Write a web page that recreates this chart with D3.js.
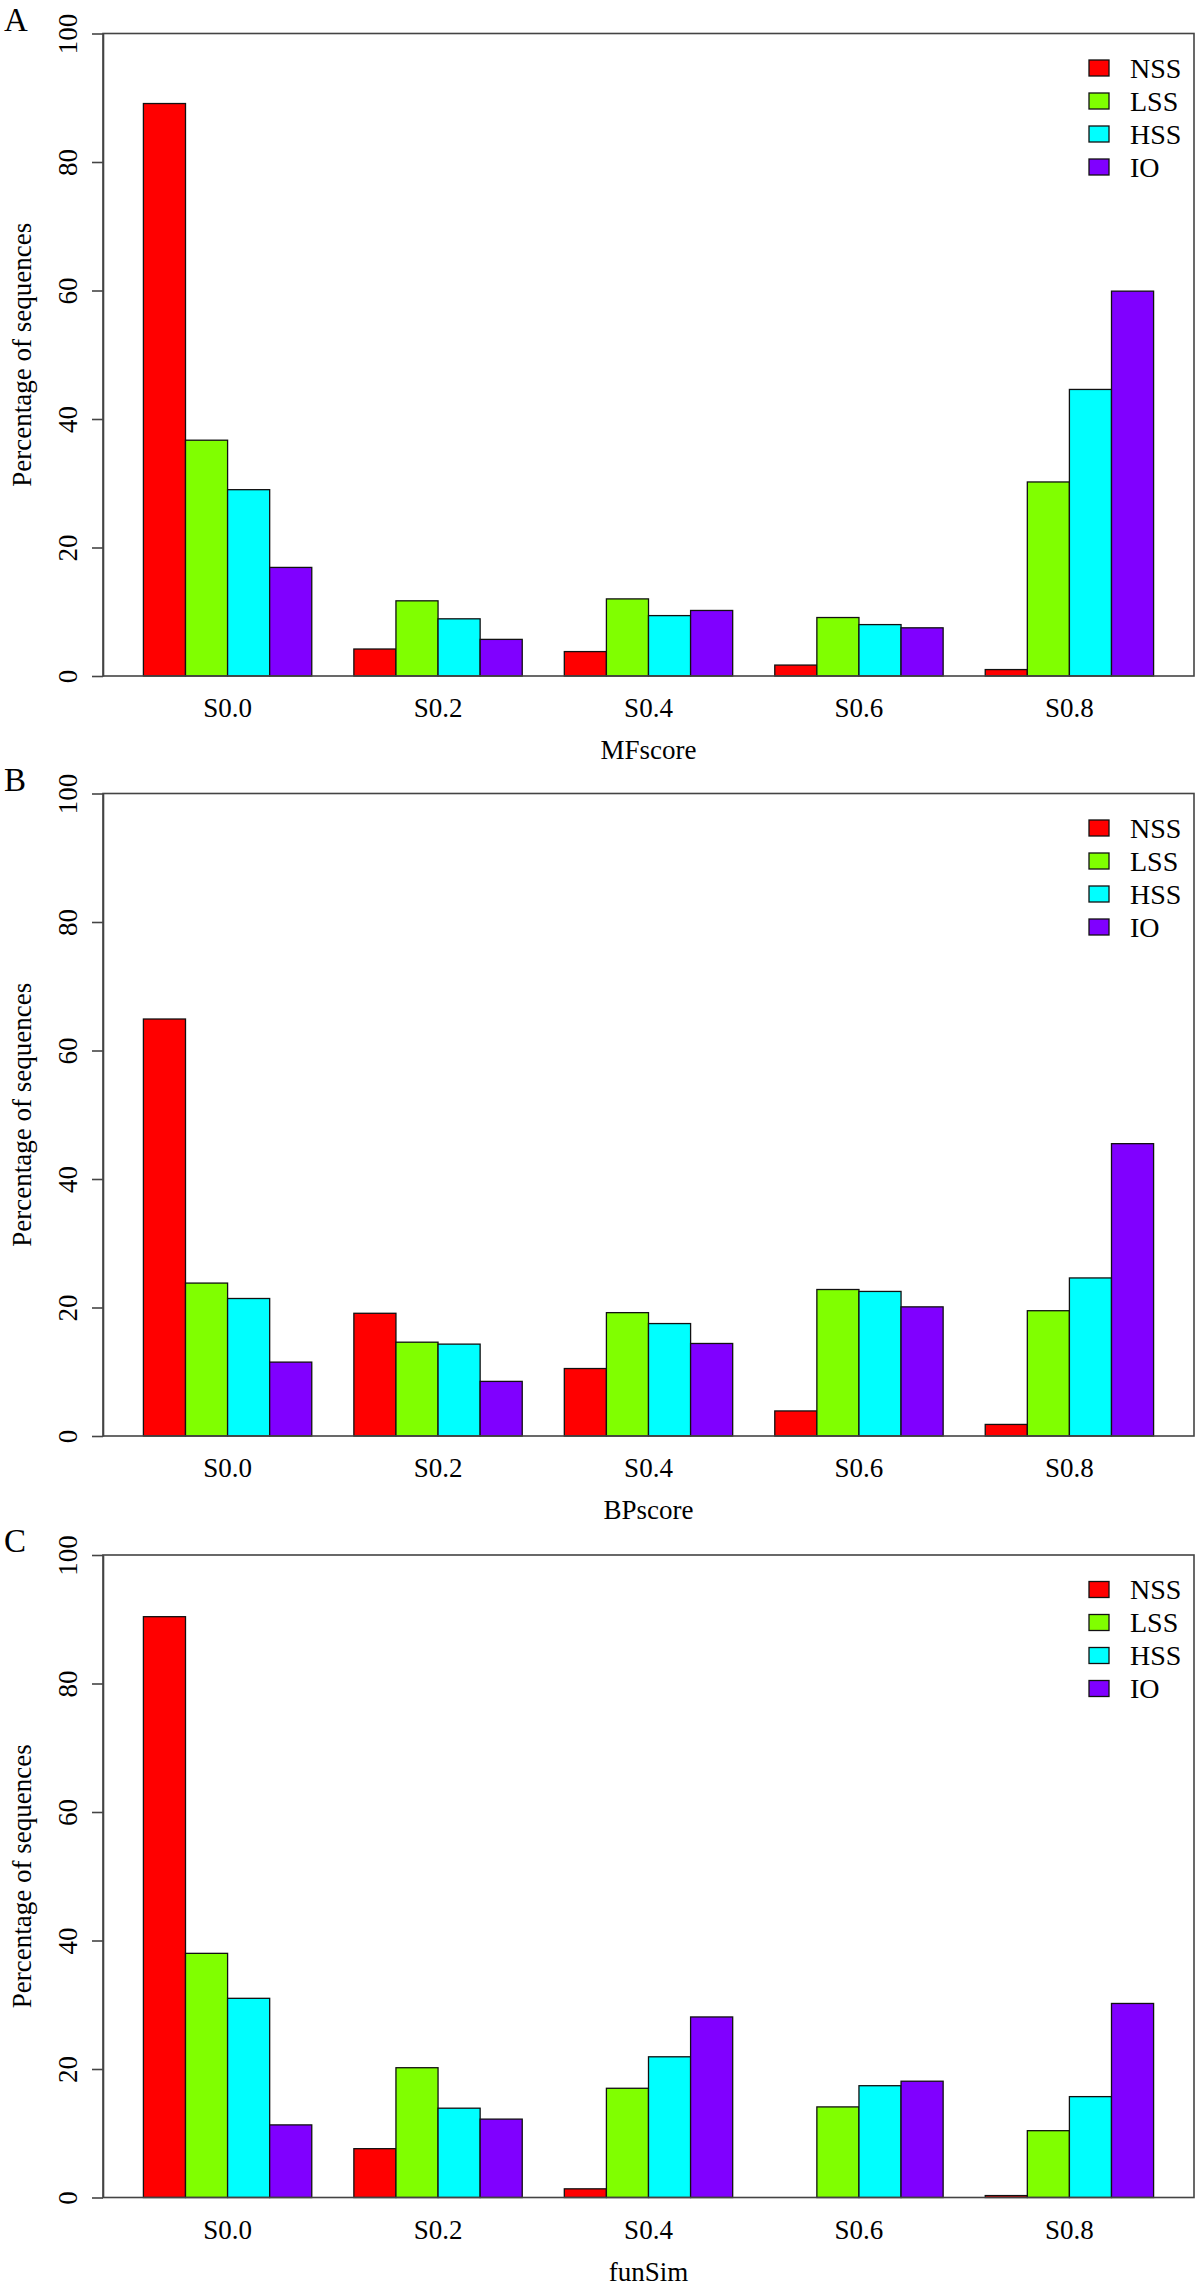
<!DOCTYPE html>
<html>
<head>
<meta charset="utf-8">
<script src="https://cdn.jsdelivr.net/npm/d3@7"></script>
<style>
  html, body { margin: 0; padding: 0; background: #fff; }
  svg { display: block; }
  svg text { font-family: "Liberation Serif", "Times New Roman", "DejaVu Serif", serif !important; fill: #000; }
</style>
</head>
<body>
<svg id="chart" width="1200" height="2286"></svg>
<script>
// ---- data ----
const categories = ["S0.0", "S0.2", "S0.4", "S0.6", "S0.8"];
const seriesNames = ["NSS", "LSS", "HSS", "IO"];
const seriesColors = ["#FF0000", "#80FF00", "#00FFFF", "#8000FF"];
const yTicks = [0, 20, 40, 60, 80, 100];

const panelLetters = ["A", "B", "C"];
const panelXTitles = ["MFscore", "BPscore", "funSim"];
const yTitle = "Percentage of sequences";

// panel A: MFscore
const mfNSS = [89.1, 4.2, 3.8, 1.7, 1.0];
const mfLSS = [36.7, 11.7, 12.0, 9.1, 30.2];
const mfHSS = [29.0, 8.9, 9.4, 8.0, 44.6];
const mfIO  = [16.9, 5.7, 10.2, 7.5, 59.9];
// panel B: BPscore
const bpNSS = [64.9, 19.1, 10.5, 3.9, 1.8];
const bpLSS = [23.8, 14.6, 19.2, 22.8, 19.5];
const bpHSS = [21.4, 14.3, 17.5, 22.5, 24.6];
const bpIO  = [11.5, 8.5, 14.4, 20.1, 45.5];
// panel C: funSim
const fsNSS = [90.4, 7.6, 1.35, 0.0, 0.3];
const fsLSS = [38.0, 20.2, 17.0, 14.1, 10.4];
const fsHSS = [31.0, 13.9, 21.9, 17.4, 15.7];
const fsIO  = [11.3, 12.2, 28.1, 18.1, 30.2];

const panelData = [
  [mfNSS, mfLSS, mfHSS, mfIO],
  [bpNSS, bpLSS, bpHSS, bpIO],
  [fsNSS, fsLSS, fsHSS, fsIO]
];

// ---- layout ----
const FONT = '"Liberation Serif", "Times New Roman", "DejaVu Serif", serif';
const plotLeft = 103, plotRight = 1194;
const panelTops = [33.5, 793.5, 1555];
const plotH = 642.5;
const axisColor = "#444";

const svg = d3.select("#chart");

// R barplot, beside=TRUE, space=c(0,1): bars occupy units [1 + 5g + s, 2 + 5g + s]
const nSeries = seriesNames.length;
const groupSpan = nSeries + 1;
const totalUnits = categories.length * groupSpan;   // 25
const pad = 0.04 * (totalUnits - 1);
const x = d3.scaleLinear()
  .domain([1 - pad, totalUnits + pad])
  .range([plotLeft, plotRight]);

panelData.forEach((series, p) => {
  const top = panelTops[p];
  const base = top + plotH;
  const y = d3.scaleLinear().domain([0, 100]).range([base, top]);
  const g = svg.append("g").attr("font-family", FONT);

  // bars
  const rows = [];
  categories.forEach((c, gi) => {
    series.forEach((vals, si) => {
      rows.push({ gi, si, v: vals[gi] });
    });
  });
  g.selectAll("rect.bar").data(rows).enter().append("rect")
    .attr("class", "bar")
    .attr("x", d => x(1 + d.gi * groupSpan + d.si))
    .attr("width", d => x(2 + d.gi * groupSpan + d.si) - x(1 + d.gi * groupSpan + d.si))
    .attr("y", d => y(d.v))
    .attr("height", d => y(0) - y(d.v))
    .attr("fill", d => seriesColors[d.si])
    .attr("stroke", "#111")
    .attr("stroke-width", 1.3);

  // box
  g.append("rect")
    .attr("x", plotLeft).attr("y", top)
    .attr("width", plotRight - plotLeft).attr("height", plotH)
    .attr("fill", "none").attr("stroke", axisColor).attr("stroke-width", 1.6);

  // y axis
  const yAxis = g.append("g")
    .attr("transform", `translate(${plotLeft},0)`)
    .call(d3.axisLeft(y).tickValues(yTicks).tickSize(11).tickSizeOuter(0).tickFormat(d3.format("d")));
  yAxis.attr("font-family", FONT).attr("font-size", 27);
  yAxis.select(".domain").attr("stroke", axisColor).attr("stroke-width", 1.6);
  yAxis.selectAll(".tick line").attr("stroke", axisColor).attr("stroke-width", 1.6);
  yAxis.selectAll(".tick text")
    .attr("x", null).attr("dy", null).attr("y", null)
    .attr("transform", "translate(-26,0) rotate(-90)")
    .attr("text-anchor", "middle")
    .attr("font-family", FONT)
    .style("font-size", "27px")
    .attr("fill", "#000");

  // x category labels
  g.selectAll("text.cat").data(categories).enter().append("text")
    .attr("class", "cat")
    .attr("x", (d, i) => x(1 + i * groupSpan + nSeries / 2))
    .attr("y", base + 41)
    .attr("text-anchor", "middle")
    .attr("font-family", FONT)
    .style("font-size", "27px")
    .text(d => d);

  // x title
  g.append("text")
    .attr("x", (plotLeft + plotRight) / 2)
    .attr("y", base + 83)
    .attr("text-anchor", "middle")
    .attr("font-family", FONT)
    .style("font-size", "27px")
    .text(panelXTitles[p]);

  // y title
  g.append("text")
    .attr("transform", `translate(31,${(top + base) / 2}) rotate(-90)`)
    .attr("text-anchor", "middle")
    .attr("font-family", FONT)
    .style("font-size", "27px")
    .text(yTitle);

  // panel letter
  g.append("text")
    .attr("x", 4)
    .attr("y", top - 3)
    .attr("font-family", FONT)
    .style("font-size", "33px")
    .text(panelLetters[p]);

  // legend
  const leg = g.append("g");
  seriesNames.forEach((name, i) => {
    const cy = top + 34.5 + i * 33;
    leg.append("rect")
      .attr("x", 1089).attr("y", cy - 8)
      .attr("width", 20).attr("height", 16)
      .attr("fill", seriesColors[i])
      .attr("stroke", "#111").attr("stroke-width", 1.3);
    leg.append("text")
      .attr("x", 1130).attr("y", cy + 9.5)
      .attr("font-family", FONT)
      .style("font-size", "28px")
      .text(name);
  });
});
</script>
</body>
</html>
